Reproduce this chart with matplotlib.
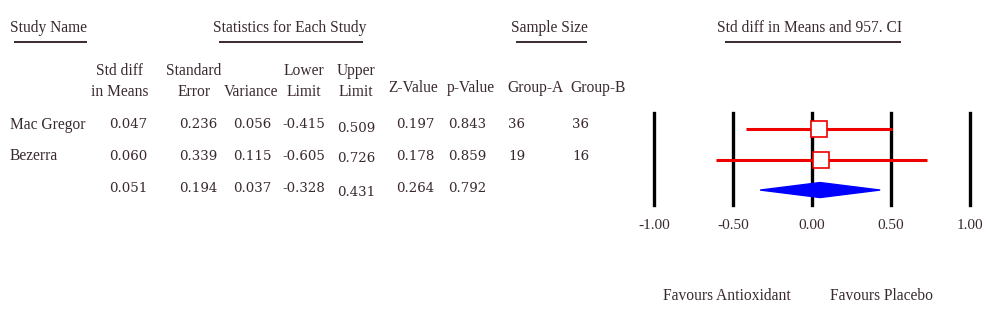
import matplotlib
matplotlib.use("Agg")
import matplotlib.pyplot as plt
from matplotlib.patches import Polygon

# study-level data
studies = ["Mac Gregor", "Bezerra", ""]
std_diff = [0.047, 0.060, 0.051]
std_err = [0.236, 0.339, 0.194]
variance = [0.056, 0.115, 0.037]
lower = [-0.415, -0.605, -0.328]
upper = [0.509, 0.726, 0.431]
z_val = [0.197, 0.178, 0.264]
p_val = [0.843, 0.859, 0.792]
group_a = [36, 19]
group_b = [36, 16]
ticks = [-1.0, -0.5, 0.0, 0.5, 1.0]

TXT = "#3a2a2e"
plt.rcParams["font.family"] = ["Liberation Serif", "DejaVu Serif"]
NUMFONT = ["DejaVu Serif"]

fig = plt.figure(figsize=(10, 3.29), dpi=100)
bg = fig.add_axes([0, 0, 1, 1])
bg.set_xlim(0, 1000)
bg.set_ylim(329, 0)
bg.axis("off")


def t(x, y, s, ha="center", size=11.2, family=None):
    kw = {"family": family} if family else {}
    bg.text(x, y, s, ha=ha, va="center", fontsize=size, color=TXT, **kw)


def n(x, y, s, ha="center"):
    t(x, y, s, ha=ha, size=9.6, family=NUMFONT)


# section titles with underlines
sections = [
    ("Study Name", 10, 14, 87, "left"),
    ("Statistics for Each Study", 290, 219, 363, "center"),
    ("Sample Size", 549, 516, 587, "center"),
    ("Std diff in Means and 957. CI", 810, 725, 901, "center"),
]
for label, x, u0, u1, ha in sections:
    t(x, 28, label, ha=ha)
    bg.plot([u0, u1], [42, 42], color=TXT, lw=1.4, solid_capstyle="butt")

# column headers
headers = [
    (120, ["Std diff", "in Means"]),
    (194, ["Standard", "Error"]),
    (251, [None, "Variance"]),
    (304, ["Lower", "Limit"]),
    (356, ["Upper", "Limit"]),
]
for x, lines in headers:
    if lines[0]:
        t(x, 71, lines[0])
    t(x, 92, lines[1])
for x, s in [(413, "Z-Value"), (471, "p-Value"), (535, "Group-A"), (598, "Group-B")]:
    t(x, 88, s)

# table rows
row_y = [125, 156, 189]
for i, y in enumerate(row_y):
    if studies[i]:
        t(10, y, studies[i], ha="left")
    n(128, y, f"{std_diff[i]:.3f}")
    n(198, y, f"{std_err[i]:.3f}")
    n(252, y, f"{variance[i]:.3f}")
    n(304, y, f"{lower[i]:.3f}")
    n(356, y + 3, f"{upper[i]:.3f}")
    n(415, y, f"{z_val[i]:.3f}")
    n(467, y, f"{p_val[i]:.3f}")
    if i < len(group_a):
        n(508, y, str(group_a[i]), ha="left")
        n(572, y, str(group_b[i]), ha="left")

# forest plot axes: x -1..1 maps to px 654..970, lines span px 113..205
ax = fig.add_axes([654 / 1000, 1 - 205 / 329, 316 / 1000, 92 / 329])
ax.set_xlim(-1, 1)
ax.set_ylim(2.49, -0.525)
for s in ax.spines.values():
    s.set_visible(False)
ax.set_yticks([])
ax.patch.set_alpha(0)
for x in ticks:
    ax.axvline(x, color="black", lw=2.4, zorder=1, clip_on=False)
ax.set_xticks(ticks)
ax.set_xticklabels([f"{x:.2f}" for x in ticks], fontsize=11, color=TXT)
ax.tick_params(axis="x", length=0, pad=10)

for i in range(2):
    ax.plot([lower[i], upper[i]], [i, i], color="#ee0000", lw=2.2, zorder=2,
            solid_capstyle="butt")
    ax.plot([std_diff[i]], [i], marker="s", ms=11, mfc="white",
            mec="#ee0000", mew=1.2, zorder=3)

h = 0.246
ax.add_patch(Polygon([(lower[2], 2), (std_diff[2], 2 - h), (upper[2], 2),
                      (std_diff[2], 2 + h)], closed=True, color="#0000ff", zorder=3))

t(663, 296, "Favours Antioxidant", ha="left")
t(830, 296, "Favours Placebo", ha="left")

fig.savefig("out.png", dpi=100)
